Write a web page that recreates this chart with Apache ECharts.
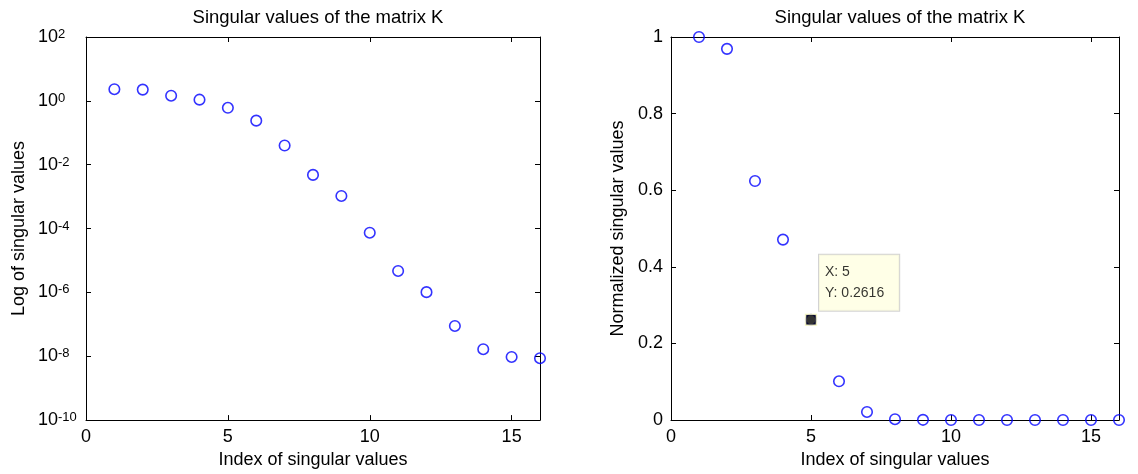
<!DOCTYPE html>
<html>
<head>
<meta charset="utf-8">
<script src="https://cdn.jsdelivr.net/npm/echarts@6/dist/echarts.min.js"></script>
<style>
  html, body { margin: 0; padding: 0; background: #fff; }
  #chart { width: 1138px; height: 474px; }
</style>
</head>
<body>
<div id="chart"></div>
<script>
// ---- data ----
const chartTitle = 'Singular values of the matrix K';
const xAxisName = 'Index of singular values';
const leftYAxisName = 'Log of singular values';
const rightYAxisName = 'Normalized singular values';

const indices = [1, 2, 3, 4, 5, 6, 7, 8, 9, 10, 11, 12, 13, 14, 15, 16];
const singularValues = [2.32, 2.25, 1.45, 1.09, 0.607, 0.240, 0.040, 0.0048, 0.00105,
  7.4e-5, 4.7e-6, 1.02e-6, 8.9e-8, 1.66e-8, 9.5e-9, 8.7e-9];
const normalizedValues = [1.0, 0.969, 0.624, 0.471, 0.2616, 0.101, 0.021, 0.0021, 0.00045,
  3.2e-5, 2.0e-6, 4.4e-7, 3.8e-8, 7.2e-9, 4.1e-9, 3.8e-9];

const xTicks = [0, 5, 10, 15];
const logTicks = [1e-10, 1e-8, 1e-6, 1e-4, 1e-2, 1e0, 1e2];
const linTicks = [0, 0.2, 0.4, 0.6, 0.8, 1];

const tipIndex = 5;  // data tip shown at X: 5
const tipValueText = '0.2616';

// ---- chart ----
const FONT = '"Liberation Sans", Arial, sans-serif';
const BLACK = '#000';
const BLUE = '#0000ff';

const chart = echarts.init(document.getElementById('chart'), null, { renderer: 'canvas' });

function baseXAxis(gridIndex, position, showLabel) {
  return {
    type: 'value', gridIndex, position, min: 0, max: 16,
    axisLine: { show: true, onZero: false, lineStyle: { color: BLACK, width: 1 } },
    axisTick: { show: true, inside: true, length: 5, customValues: xTicks, lineStyle: { color: BLACK } },
    axisLabel: { show: showLabel, customValues: xTicks, color: BLACK, fontFamily: FONT, fontSize: 18, margin: 8 },
    splitLine: { show: false },
    name: showLabel ? xAxisName : '',
    nameLocation: 'middle', nameGap: 28,
    nameTextStyle: { color: BLACK, fontFamily: FONT, fontSize: 18 }
  };
}

const logLabelRich = {
  b: { fontSize: 18, fontFamily: FONT, color: BLACK, lineHeight: 18, padding: [8, 0, 8, 0] },
  s: { fontSize: 13, fontFamily: FONT, color: BLACK, lineHeight: 14, verticalAlign: 'top' }
};

const option = {
  animation: false,
  backgroundColor: '#fff',
  title: [
    { text: chartTitle, left: 313, top: 3, textAlign: 'center',
      textStyle: { color: BLACK, fontFamily: FONT, fontSize: 18.5, fontWeight: 'normal' } },
    { text: chartTitle, left: 895, top: 3, textAlign: 'center',
      textStyle: { color: BLACK, fontFamily: FONT, fontSize: 18.5, fontWeight: 'normal' } }
  ],
  grid: [
    { left: 86, top: 37, width: 454, height: 384, show: false },
    { left: 671, top: 37, width: 448, height: 383, show: false }
  ],
  xAxis: [
    baseXAxis(0, 'bottom', true),
    baseXAxis(0, 'top', false),
    baseXAxis(1, 'bottom', true),
    baseXAxis(1, 'top', false)
  ],
  yAxis: [
    {
      type: 'log', logBase: 10, gridIndex: 0, position: 'left', min: 1e-10, max: 1e2,
      axisLine: { show: true, onZero: false, lineStyle: { color: BLACK } },
      axisTick: { show: true, inside: true, length: 5, customValues: logTicks, lineStyle: { color: BLACK } },
      axisLabel: {
        show: true, customValues: logTicks, align: 'left', margin: 48,
        formatter: v => '{b|10}{s|' + Math.round(Math.log10(v)) + '}',
        rich: logLabelRich
      },
      splitLine: { show: false },
      name: leftYAxisName, nameLocation: 'middle', nameGap: 58, nameRotate: 90,
      nameTextStyle: { color: BLACK, fontFamily: FONT, fontSize: 18 }
    },
    {
      type: 'log', logBase: 10, gridIndex: 0, position: 'right', min: 1e-10, max: 1e2,
      axisLine: { show: true, onZero: false, lineStyle: { color: BLACK } },
      axisTick: { show: true, inside: true, length: 5, customValues: logTicks, lineStyle: { color: BLACK } },
      axisLabel: { show: false },
      splitLine: { show: false }
    },
    {
      type: 'value', gridIndex: 1, position: 'left', min: 0, max: 1,
      axisLine: { show: true, onZero: false, lineStyle: { color: BLACK } },
      axisTick: { show: true, inside: true, length: 5, customValues: linTicks, lineStyle: { color: BLACK } },
      axisLabel: { show: true, customValues: linTicks, color: BLACK, fontFamily: FONT, fontSize: 18, margin: 8 },
      splitLine: { show: false },
      name: rightYAxisName, nameLocation: 'middle', nameGap: 44, nameRotate: 90,
      nameTextStyle: { color: BLACK, fontFamily: FONT, fontSize: 18 }
    },
    {
      type: 'value', gridIndex: 1, position: 'right', min: 0, max: 1,
      axisLine: { show: true, onZero: false, lineStyle: { color: BLACK } },
      axisTick: { show: true, inside: true, length: 5, customValues: linTicks, lineStyle: { color: BLACK } },
      axisLabel: { show: false },
      splitLine: { show: false }
    }
  ],
  series: [
    {
      type: 'scatter', xAxisIndex: 0, yAxisIndex: 0, clip: false,
      symbol: 'circle', symbolSize: 10.5,
      itemStyle: { color: 'rgba(0,0,0,0)', borderColor: BLUE, borderWidth: 1.6 },
      data: indices.map((x, i) => [x, singularValues[i]])
    },
    {
      type: 'scatter', xAxisIndex: 2, yAxisIndex: 2, clip: false,
      symbol: 'circle', symbolSize: 10.5,
      itemStyle: { color: 'rgba(0,0,0,0)', borderColor: BLUE, borderWidth: 1.6 },
      data: indices.map((x, i) => [x, normalizedValues[i]])
    },
    {
      // data tip box
      type: 'scatter', xAxisIndex: 2, yAxisIndex: 2, clip: false, z: 3,
      symbol: 'rect', symbolSize: 12,
      itemStyle: { color: 'rgba(0,0,0,0)' },
      label: {
        show: true, position: [14, -59],
        formatter: () => 'X: ' + tipIndex + '\nY: ' + tipValueText,
        color: BLACK, fontFamily: FONT, fontSize: 14, lineHeight: 21,
        backgroundColor: '#ffffe1', borderColor: '#c8c8c8', borderWidth: 1,
        padding: [7, 15, 7, 6], align: 'left', verticalAlign: 'top'
      },
      data: [[tipIndex, normalizedValues[tipIndex - 1]]]
    },
    {
      // data tip marker
      type: 'scatter', xAxisIndex: 2, yAxisIndex: 2, clip: false, z: 5,
      symbol: 'rect', symbolSize: 11,
      itemStyle: { color: BLACK, borderColor: '#ffffcc', borderWidth: 1.5 },
      data: [[tipIndex, normalizedValues[tipIndex - 1]]]
    }
  ]
};

chart.setOption(option);
</script>
</body>
</html>
